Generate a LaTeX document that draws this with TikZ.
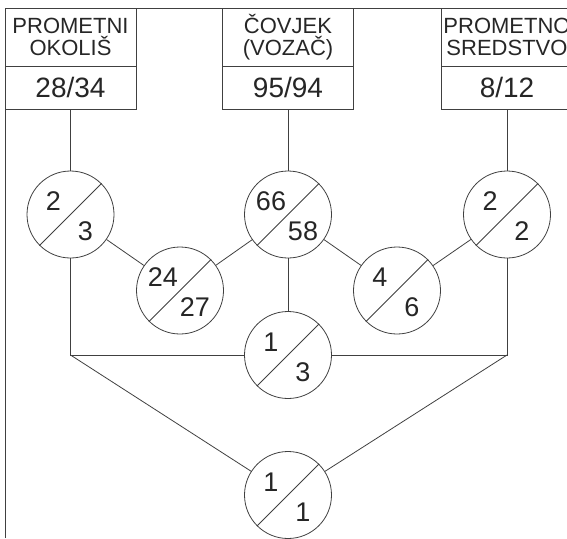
\documentclass[tikz,border=0pt]{standalone}
\usepackage{fontspec}
\setmainfont{Liberation Sans}
\usetikzlibrary{positioning}

\begin{document}
\begin{tikzpicture}[x=1pt,y=-1pt,
  linija/.style={draw=black!75, line width=0.8pt},
  naslov/.style={linija, rectangle, outer sep=0pt, inner sep=0pt,
    minimum width=131pt, minimum height=58pt, align=center,
    text=black!85, font=\fontsize{22}{22}\selectfont},
  iznos/.style={linija, rectangle, outer sep=0pt, inner sep=0pt,
    minimum width=131pt, minimum height=43pt,
    text=black!85, font=\fontsize{28}{30}\selectfont},
  krug/.style={linija, circle, minimum size=87pt, inner sep=0pt},
  broj/.style={inner sep=0pt, text=black!85, font=\fontsize{27}{29}\selectfont}]

\newcommand\krug[4]{%
\node[krug] (#1) at (#2) {};
\draw[linija] (#1.225) -- (#1.45);
\node[broj] (#1a) at ([shift={(-17,-13)}]#1.center) {#3};
\node[broj] (#1b) at ([shift={(15,17)}]#1.center) {#4};
}

\useasboundingbox (0,0) rectangle (567,538);
\clip (0,0) rectangle (567,538);

\draw[linija] (5,538) -- (5,8) -- (567,8); %% frame

%% top boxes
\node[naslov, anchor=north] (okolis) at (70.5,8) {PROMETNI\\OKOLIŠ};
\node[iznos, below=0pt of okolis] (okolisN) {28/34};
\node[naslov, anchor=north] (covjek) at (288,8) {ČOVJEK\\(VOZAČ)};
\node[iznos, below=0pt of covjek] (covjekN) {95/94};
\node[naslov, anchor=north] (sredstvo) at (507,8) {PROMETNO\\SREDSTVO};
\node[iznos, below=0pt of sredstvo] (sredstvoN) {8/12};

%% circles
\krug{k1}{70.5,214.5}{2}{3}
\krug{k2}{288,214.5}{66}{58}
\krug{k3}{507,214.5}{2}{2}
\krug{k12}{180,290.5}{24}{27}
\krug{k23}{397,290.5}{4}{6}
\krug{k13}{288,355}{1}{3}
\krug{k123}{288,495}{1}{1}

\coordinate (lkut) at (k1 |- k13);
\coordinate (dkut) at (k3 |- k13);

\draw[linija] (okolisN) -- (k1);
\draw[linija] (covjekN) -- (k2);
\draw[linija] (sredstvoN) -- (k3);

\draw[linija] (k1) -- (k12);
\draw[linija] (k2) -- (k12);
\draw[linija] (k2) -- (k23);
\draw[linija] (k3) -- (k23);
\draw[linija] (k2) -- (k13);

\draw[linija] (k1) -- (lkut) -- (k13);
\draw[linija] (k3) -- (dkut) -- (k13);
\draw[linija] (lkut) -- (k123);
\draw[linija] (dkut) -- (k123);

\end{tikzpicture}
\end{document}
